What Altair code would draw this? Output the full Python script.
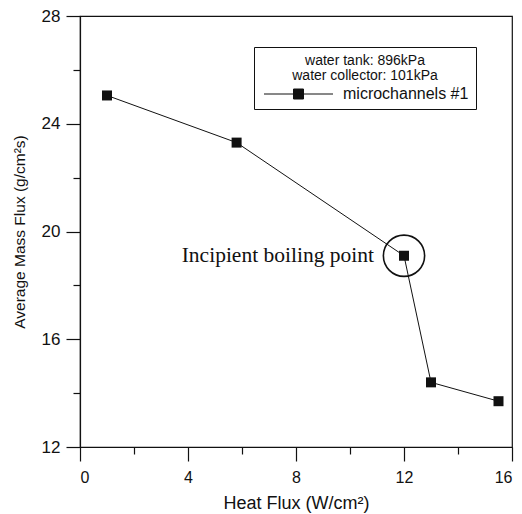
import altair as alt
import pandas as pd

# Measured average mass flux versus applied heat flux
heat_flux = [1.0, 5.8, 12.0, 13.0, 15.5]
mass_flux = [25.05, 23.3, 19.1, 14.4, 13.7]
series_name = "microchannels #1"
conditions = ["water tank: 896kPa", "water collector: 101kPa"]
note_text = "Incipient boiling point"
note_index = 2  # the point where boiling begins

x_ticks = [0, 2, 4, 6, 8, 10, 12, 14, 16]
y_ticks = [12, 14, 16, 18, 20, 22, 24, 26, 28]

df = pd.DataFrame({"q": heat_flux, "G": mass_flux, "series": series_name})
note_df = pd.DataFrame({"q": [heat_flux[note_index]], "G": [mass_flux[note_index]],
                        "label": [note_text]})

sans = "Liberation Sans"
ink = "#111111"
major_minor = {"condition": {"test": "datum.value % 4 === 0", "value": 14}, "value": 7}
every_other = "datum.value % 4 === 0 ? datum.label : ''"

x_enc = alt.X("q:Q", scale=alt.Scale(domain=[0, 16], nice=False),
              axis=alt.Axis(title="Heat Flux (W/cm²)", values=x_ticks, labelExpr=every_other,
                            tickSize=major_minor, labelPadding=8, titlePadding=9,
                            titleFontSize=18, labelFontSize=16))
y_enc = alt.Y("G:Q", scale=alt.Scale(domain=[12, 28], nice=False, zero=False),
              axis=alt.Axis(title="Average Mass Flux (g/cm²s)", values=y_ticks,
                            labelExpr=every_other, tickSize=major_minor, labelPadding=6,
                            titlePadding=14, titleFontSize=15.5, labelFontSize=17))

# legend glyph: a line segment with a filled square in its middle (unit = half square side)
legend_symbol = "M-1,0H12.8M4.9,-1H6.9V1H4.9Z"

line = alt.Chart(df).mark_line(
    strokeWidth=1,
    point=alt.OverlayMarkDef(shape="square", size=100, filled=True, color=ink, opacity=1),
).encode(
    x=x_enc,
    y=y_enc,
    color=alt.Color("series:N", scale=alt.Scale(range=[ink]),
                    legend=alt.Legend(
                        title=conditions, orient="none", legendX=174, legendY=31,
                        strokeColor=ink, padding=7, fillColor="white",
                        titleFont=sans, titleFontSize=14, titleFontWeight="normal",
                        titleColor=ink, titleAnchor="middle", titleAlign="center",
                        titleLineHeight=15, titlePadding=3,
                        labelFont=sans, labelFontSize=16, labelColor=ink, labelOffset=66,
                        symbolType=legend_symbol, symbolSize=100, symbolStrokeWidth=1,
                        symbolStrokeColor=ink, symbolFillColor=ink,
                        symbolOpacity=1)),
)

ring = alt.Chart(note_df).mark_point(
    shape="circle", size=1700, filled=False, color=ink, strokeWidth=1.6, opacity=1
).encode(x="q:Q", y="G:Q")

note = alt.Chart(note_df).mark_text(
    font="Liberation Serif", fontSize=21.5, align="right", baseline="alphabetic",
    dx=-30, dy=6, color=ink
).encode(x="q:Q", y="G:Q", text="label:N")

chart = alt.layer(line, ring, note).properties(
    width=432, height=431,
    padding={"left": 80, "top": 16, "right": 10, "bottom": 67},
    autosize=alt.AutoSizeParams(type="none"),
    background="white",
).configure_view(
    stroke=ink, strokeWidth=1.2
).configure_axis(
    domainColor=ink, domainWidth=1.2, tickColor=ink, tickWidth=1.2,
    labelColor=ink, titleColor=ink, labelFont=sans, titleFont=sans,
    titleFontWeight="normal", grid=False,
)

chart.save("out.html", embed_options={"renderer": "svg", "actions": False})
